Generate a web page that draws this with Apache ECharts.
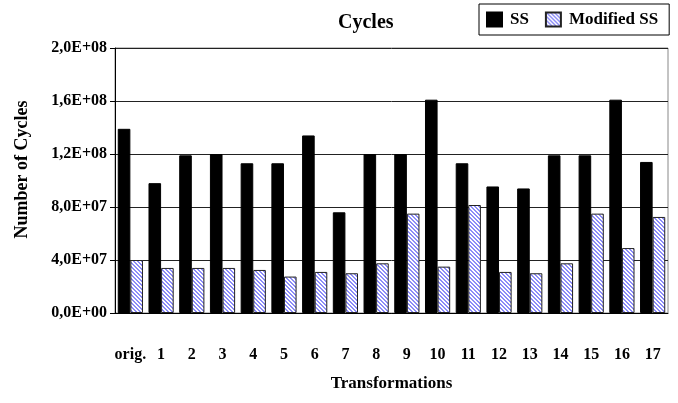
<!DOCTYPE html>
<html>
<head>
<meta charset="utf-8">
<script src="https://cdn.jsdelivr.net/npm/echarts@6/dist/echarts.min.js"></script>
<style>
  html, body { margin: 0; padding: 0; background: #fff; }
  #main { width: 678px; height: 403px; }
</style>
</head>
<body>
<div id="main"></div>
<script>
var categories = ['orig.', '1', '2', '3', '4', '5', '6', '7', '8', '9', '10', '11', '12', '13', '14', '15', '16', '17'];
var ssValues = [1.39e8, 0.98e8, 1.19e8, 1.20e8, 1.13e8, 1.13e8, 1.34e8, 0.76e8, 1.20e8, 1.20e8, 1.61e8, 1.13e8, 0.955e8, 0.94e8, 1.19e8, 1.19e8, 1.61e8, 1.14e8];
var modValues = [4.0e7, 3.4e7, 3.4e7, 3.4e7, 3.25e7, 2.75e7, 3.1e7, 3.0e7, 3.75e7, 7.5e7, 3.5e7, 8.15e7, 3.1e7, 3.0e7, 3.75e7, 7.5e7, 4.9e7, 7.25e7];

var font = '"Liberation Serif", "Times New Roman", serif';

// little hatch tile for the Modified SS bars
function hatch() {
  var c = document.createElement('canvas');
  c.width = 4; c.height = 4;
  var ctx = c.getContext('2d');
  ctx.fillStyle = '#ffffff';
  ctx.fillRect(0, 0, 4, 4);
  ctx.fillStyle = '#8c8cf8';
  for (var x = 0; x < 4; x++) {
    for (var y = 0; y < 4; y++) {
      if ((x - y + 4) % 4 < 2) ctx.fillRect(x, y, 1, 1);
    }
  }
  return c;
}

function sci(v) {
  if (v === 0) return '0,0E+00';
  var e = Math.floor(Math.log10(v) + 1e-9);
  var m = v / Math.pow(10, e);
  return m.toFixed(1).replace('.', ',') + 'E+' + (e < 10 ? '0' + e : e);
}

var chart = echarts.init(document.getElementById('main'));

var option = {
  animation: false,
  title: {
    text: 'Cycles',
    left: 333,
    top: 8,
    textStyle: { fontFamily: font, fontWeight: 'bold', fontSize: 20, color: '#000' }
  },
  legend: {
    left: 479,
    top: 4,
    padding: [7, 11, 7, 7],
    itemGap: 16,
    itemWidth: 15,
    itemHeight: 14,
    icon: 'rect',
    borderColor: '#000',
    borderWidth: 1,
    textStyle: { fontFamily: font, fontWeight: 'bold', fontSize: 17, color: '#000', padding: [0, 0, 0, 3] },
    data: ['SS', 'Modified SS']
  },
  grid: {
    left: 115,
    right: 10,
    top: 48,
    bottom: 90,
    show: true,
    borderColor: '#888',
    borderWidth: 1
  },
  xAxis: {
    type: 'category',
    data: categories,
    name: 'Transformations',
    nameLocation: 'middle',
    nameGap: 62,
    nameTextStyle: { fontFamily: font, fontWeight: 'bold', fontSize: 17, color: '#000' },
    axisLine: { lineStyle: { color: '#000', width: 1 } },
    axisTick: { length: 7, lineStyle: { color: '#000' } },
    axisLabel: { margin: 34, fontFamily: font, fontWeight: 'bold', fontSize: 16, color: '#000', interval: 0 }
  },
  yAxis: {
    type: 'value',
    min: 0,
    max: 2e8,
    interval: 4e7,
    name: 'Number of Cycles',
    nameLocation: 'middle',
    nameGap: 84,
    nameTextStyle: { fontFamily: font, fontWeight: 'bold', fontSize: 18, color: '#000', padding: [0, 0, 0, 22] },
    axisLine: { show: true, lineStyle: { color: '#000', width: 1 } },
    axisTick: { show: true, length: 5, lineStyle: { color: '#000' } },
    axisLabel: { margin: 8, fontFamily: font, fontWeight: 'bold', fontSize: 16, color: '#000', formatter: sci },
    splitLine: { lineStyle: { color: '#222', width: 1 } }
  },
  series: [
    {
      name: 'SS',
      type: 'bar',
      data: ssValues,
      barGap: '0%',
      barCategoryGap: '18%',
      itemStyle: { color: '#000', borderColor: '#000', borderWidth: 1 }
    },
    {
      name: 'Modified SS',
      type: 'bar',
      data: modValues,
      itemStyle: { color: { image: hatch(), repeat: 'repeat' }, borderColor: '#222', borderWidth: 1 }
    }
  ]
};

chart.setOption(option);
</script>
</body>
</html>
